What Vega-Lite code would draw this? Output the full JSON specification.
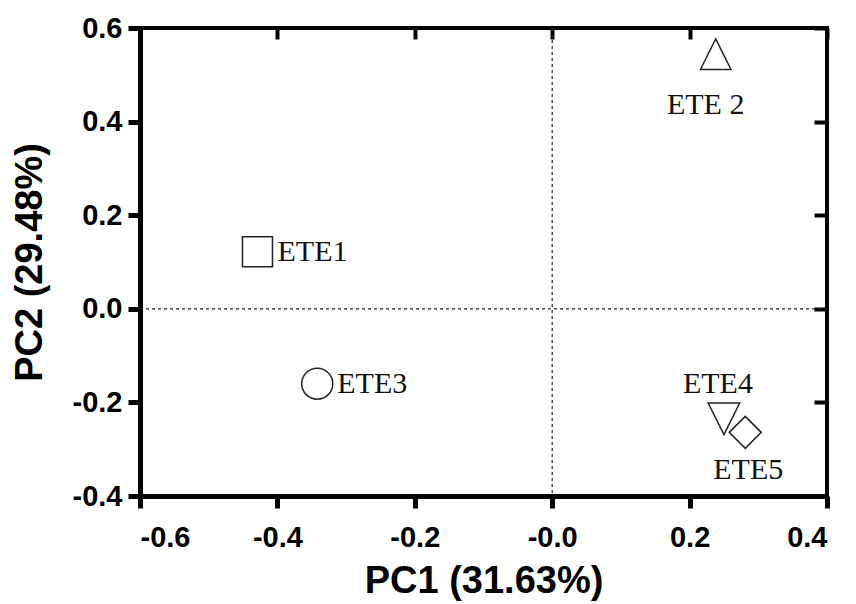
{
  "$schema": "https://vega.github.io/schema/vega-lite/v6.json",
  "width": 687,
  "height": 468,
  "autosize": {"type": "none"},
  "padding": {"left": 140, "top": 28, "right": 29, "bottom": 108},
  "background": "white",
  "config": {
    "view": {"stroke": "black", "strokeWidth": 4},
    "axis": {
      "grid": false,
      "labelFont": "Liberation Sans",
      "labelFontWeight": "bold",
      "labelFontSize": 29,
      "labelColor": "black",
      "titleFont": "Liberation Sans",
      "titleFontWeight": "bold",
      "titleFontSize": 38,
      "titleColor": "black",
      "domainColor": "black",
      "tickColor": "black"
    }
  },
  "data": {
    "values": [
      {"sample": "ETE1", "label": "ETE1", "PC1": -0.429, "PC2": 0.122},
      {"sample": "ETE2", "label": "ETE 2", "PC1": 0.238, "PC2": 0.544},
      {"sample": "ETE3", "label": "ETE3", "PC1": -0.342, "PC2": -0.160},
      {"sample": "ETE4", "label": "ETE4", "PC1": 0.250, "PC2": -0.235},
      {"sample": "ETE5", "label": "ETE5", "PC1": 0.281, "PC2": -0.264}
    ]
  },
  "layer": [
    {
      "data": {"values": [{"v": 0}]},
      "mark": {"type": "rule", "strokeDash": [3, 3], "color": "#222", "strokeWidth": 1.2},
      "encoding": {
        "x": {"field": "v", "type": "quantitative", "scale": {"domain": [-0.6, 0.4], "nice": false, "zero": false},
          "axis": {"orient": "top", "labels": false, "title": null, "values": [-0.6, -0.4, -0.2, 0, 0.2, 0.4], "tickSize": -11, "tickWidth": 4, "domain": false}}
      }
    },
    {
      "data": {"values": [{"v": 0}]},
      "mark": {"type": "rule", "strokeDash": [3, 3], "color": "#222", "strokeWidth": 1.2},
      "encoding": {
        "y": {"field": "v", "type": "quantitative", "scale": {"domain": [-0.4, 0.6], "nice": false, "zero": false},
          "axis": {"orient": "right", "labels": false, "title": null, "values": [-0.4, -0.2, 0, 0.2, 0.4, 0.6], "tickSize": -13, "tickWidth": 4, "domain": false}}
      }
    },
    {
      "mark": {"type": "point", "filled": false, "strokeWidth": 1.5, "color": "#222", "opacity": 1},
      "encoding": {
        "x": {"field": "PC1", "type": "quantitative", "title": "PC1 (31.63%)",
          "scale": {"domain": [-0.6, 0.4], "nice": false, "zero": false},
          "axis": {"orient": "bottom", "values": [-0.6, -0.4, -0.2, 0, 0.2, 0.4],
            "labelExpr": "datum.value == 0 ? '-0.0' : replace(format(datum.value, '.1f'), '\u2212', '-')",
            "tickSize": 12, "tickWidth": 5, "domainWidth": 5, "labelPadding": 15, "titlePadding": 10}},
        "y": {"field": "PC2", "type": "quantitative", "title": "PC2 (29.48%)",
          "scale": {"domain": [-0.4, 0.6], "nice": false, "zero": false},
          "axis": {"orient": "left", "values": [-0.4, -0.2, 0, 0.2, 0.4, 0.6],
            "labelExpr": "replace(format(datum.value, '.1f'), '\u2212', '-')",
            "tickSize": 12, "tickWidth": 5, "domainWidth": 5, "labelPadding": 6, "titlePadding": 23}},
        "shape": {"field": "sample", "type": "nominal", "legend": null,
          "scale": {"domain": ["ETE1", "ETE2", "ETE3", "ETE4", "ETE5"],
            "range": ["square", "M0,-1L1,1L-1,1Z", "circle", "M-1,-1L1,-1L0,1Z", "diamond"]}},
        "size": {"field": "sample", "type": "nominal", "legend": null,
          "scale": {"domain": ["ETE1", "ETE2", "ETE3", "ETE4", "ETE5"], "range": [900, 1024, 960, 1024, 1520]}}
      }
    },
    {
      "transform": [{"filter": "datum.sample == 'ETE1' || datum.sample == 'ETE3'"}],
      "mark": {"type": "text", "align": "left", "baseline": "middle", "dx": 20, "font": "Liberation Serif", "fontSize": 30, "color": "#111"},
      "encoding": {"x": {"field": "PC1", "type": "quantitative", "axis": null}, "y": {"field": "PC2", "type": "quantitative", "axis": null}, "text": {"field": "label"}}
    },
    {
      "transform": [{"filter": "datum.sample == 'ETE2'"}],
      "mark": {"type": "text", "align": "center", "baseline": "middle", "dx": -10, "dy": 51, "font": "Liberation Serif", "fontSize": 30, "color": "#111"},
      "encoding": {"x": {"field": "PC1", "type": "quantitative", "axis": null}, "y": {"field": "PC2", "type": "quantitative", "axis": null}, "text": {"field": "label"}}
    },
    {
      "transform": [{"filter": "datum.sample == 'ETE4'"}],
      "mark": {"type": "text", "align": "center", "baseline": "middle", "dx": -6, "dy": -35, "font": "Liberation Serif", "fontSize": 30, "color": "#111"},
      "encoding": {"x": {"field": "PC1", "type": "quantitative", "axis": null}, "y": {"field": "PC2", "type": "quantitative", "axis": null}, "text": {"field": "label"}}
    },
    {
      "transform": [{"filter": "datum.sample == 'ETE5'"}],
      "mark": {"type": "text", "align": "center", "baseline": "middle", "dx": 3, "dy": 38, "font": "Liberation Serif", "fontSize": 30, "color": "#111"},
      "encoding": {"x": {"field": "PC1", "type": "quantitative", "axis": null}, "y": {"field": "PC2", "type": "quantitative", "axis": null}, "text": {"field": "label"}}
    }
  ],
  "resolve": {"axis": {"x": "independent", "y": "independent"}}
}
